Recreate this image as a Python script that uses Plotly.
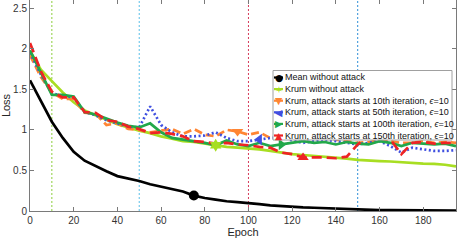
import plotly.graph_objects as go

# ---------------- data ----------------
epochs = list(range(0, 200, 5))

mean_no_attack = [1.61, 1.36, 1.10, 0.90, 0.73, 0.62, 0.55, 0.49, 0.43, 0.40,
                  0.37, 0.33, 0.30, 0.27, 0.24, 0.19, 0.16, 0.14, 0.12, 0.11,
                  0.10, 0.085, 0.07, 0.06, 0.05, 0.045, 0.04, 0.035, 0.03, 0.02,
                  0.015, 0.012, 0.01, 0.01, 0.009, 0.008, 0.007, 0.006, 0.005, 0.005]
krum_no_attack = [1.97, 1.74, 1.60, 1.46, 1.34, 1.24, 1.18, 1.12, 1.07, 1.03,
                  0.99, 0.96, 0.92, 0.89, 0.86, 0.85, 0.83, 0.81, 0.79, 0.78,
                  0.77, 0.76, 0.74, 0.72, 0.70, 0.69, 0.68, 0.67, 0.66, 0.645,
                  0.63, 0.62, 0.615, 0.61, 0.60, 0.595, 0.585, 0.58, 0.57, 0.55]
krum_attack_10 = [1.92, 1.65, 1.46, 1.38, 1.38, 1.21, 1.20, 1.06, 1.08, 1.01,
                  1.00, 0.97, 0.99, 1.01, 0.95, 1.01, 0.94, 0.92, 1.00, 0.98,
                  0.94, 0.97, 0.90, 0.95, 0.92, 0.95, 0.94, 0.92, 0.88, 0.86,
                  0.84, 0.85, 0.87, 0.86, 0.84, 0.84, 0.86, 0.84, 0.85, 0.84]
krum_attack_50 = [1.95, 1.68, 1.45, 1.42, 1.40, 1.22, 1.18, 1.12, 1.08, 1.04,
                  1.03, 1.29, 1.06, 0.97, 0.92, 0.92, 0.93, 0.97, 0.90, 0.86,
                  0.86, 0.88, 0.90, 0.91, 0.87, 0.84, 0.86, 0.88, 0.86, 0.84,
                  0.82, 0.84, 0.86, 0.80, 0.72, 0.78, 0.76, 0.74, 0.74, 0.75]
krum_attack_100 = [1.98, 1.70, 1.43, 1.43, 1.41, 1.22, 1.19, 1.14, 1.09, 1.05,
                   1.03, 1.08, 0.97, 0.90, 0.88, 0.86, 0.84, 0.81, 0.87, 0.82,
                   0.80, 0.84, 0.80, 0.82, 0.84, 0.86, 0.84, 0.85, 0.82, 0.85,
                   0.83, 0.82, 0.86, 0.84, 0.80, 0.84, 0.83, 0.82, 0.83, 0.80]
krum_attack_150 = [2.07, 1.72, 1.47, 1.40, 1.40, 1.22, 1.21, 1.12, 1.10, 1.04,
                   1.01, 0.96, 0.97, 0.95, 0.92, 0.86, 0.85, 0.83, 0.84, 0.82,
                   0.81, 0.79, 0.78, 0.72, 0.70, 0.66, 0.66, 0.66, 0.65, 0.67,
                   0.82, 0.92, 0.90, 0.88, 0.70, 0.84, 0.85, 0.83, 0.84, 0.84]

series_names = ["Mean without attack",
                "Krum without attack",
                "Krum, attack starts at 10th iteration, <i>ϵ</i>=10",
                "Krum, attack starts at 50th iteration, <i>ϵ</i>=10",
                "Krum, attack starts at 100th iteration, <i>ϵ</i>=10",
                "Krum, attack starts at 150th iteration, <i>ϵ</i>=10"]
series_values = [mean_no_attack, krum_no_attack, krum_attack_10,
                 krum_attack_50, krum_attack_100, krum_attack_150]
marker_epochs = [75, 85, 95, 105, 115, 125]
attack_starts = [10, 50, 100, 150]

x_ticks = [0, 20, 40, 60, 80, 100, 120, 140, 160, 180]
y_ticks = [0, 0.5, 1, 1.5, 2, 2.5]
y_tick_labels = ["0", "0.5", "1", "1.5", "2", "2.5"]

# ---------------- styles ----------------
colors = ["#000000", "#a8de22", "#ff8533", "#3f4fe0", "#22a84a", "#ee2424"]
dashes = ["solid", "solid", "8px,4px", "2px,2.5px", "solid", "10px,5px"]
symbols = ["circle", "hexagram", "triangle-down", "triangle-left",
           "triangle-right", "triangle-up"]
glyphs = ["●", "✶", "▼", "◀", "▶", "▲"]
vline_colors = ["#8ccf3c", "#5bbfe8", "#d63b5a", "#2f8fd8"]

W, H = 458, 240
ML, MR, MT, MB = 30, 2, 0, 29
PW, PH = W - ML - MR, H - MT - MB


def px(x):
    return (x - ML) / PW


def py(y):
    return (H - MB - y) / PH


FONT = "Liberation Sans, Arial, Helvetica, sans-serif"

fig = go.Figure()

for name, vals, col, dsh in zip(series_names, series_values, colors, dashes):
    fig.add_trace(go.Scatter(x=epochs, y=vals, mode="lines", name=name,
                             line=dict(color=col, width=2.7, dash=dsh),
                             showlegend=False, hoverinfo="skip"))
for name, vals, col, sym, me in zip(series_names, series_values, colors,
                                    symbols, marker_epochs):
    i = epochs.index(me)
    fig.add_trace(go.Scatter(x=[epochs[i]], y=[vals[i]], mode="markers",
                             name=name, showlegend=False,
                             marker=dict(symbol=sym, color=col, size=10,
                                         line=dict(width=0))))

shapes = []
for xs, c in zip(attack_starts, vline_colors):
    shapes.append(dict(type="line", xref="x", yref="paper", x0=xs, x1=xs,
                       y0=0, y1=1, layer="below",
                       line=dict(color=c, width=1, dash="2px,2px")))

# custom compact legend
shapes.append(dict(type="rect", xref="paper", yref="paper",
                   x0=px(273), x1=px(452), y0=py(140), y1=py(70.5),
                   fillcolor="white", line=dict(color="#a0a0a0", width=1),
                   layer="above"))
annotations = []
for k, (name, col, g) in enumerate(zip(series_names, colors, glyphs)):
    yy = 77.5 + 11.6 * k
    shapes.append(dict(type="line", xref="paper", yref="paper",
                       x0=px(274), x1=px(283), y0=py(yy), y1=py(yy),
                       layer="above", line=dict(color=col, width=2.2)))
    annotations.append(dict(xref="paper", yref="paper", x=px(278.5), y=py(yy),
                            text=g, showarrow=False, xanchor="center",
                            yanchor="middle", borderpad=0,
                            font=dict(size=9.5, color=col,
                                      family="DejaVu Sans")))
    annotations.append(dict(xref="paper", yref="paper", x=px(283.5), y=py(yy),
                            text=name, showarrow=False, xanchor="left",
                            yanchor="middle", borderpad=0,
                            font=dict(size=9, color="#111111", family=FONT)))

fig.update_layout(
    width=W, height=H,
    margin=dict(l=ML, r=MR, t=MT, b=MB, pad=0),
    paper_bgcolor="white", plot_bgcolor="white",
    font=dict(family=FONT, size=10, color="#262626"),
    shapes=shapes, annotations=annotations, showlegend=False,
    xaxis=dict(range=[0, 195], tickvals=x_ticks, ticks="inside", ticklen=4,
               tickcolor="#7a7a7a", showline=True, linecolor="#7a7a7a",
               linewidth=1, mirror="ticks", showgrid=False, zeroline=False,
               tickfont=dict(size=10, color="#333333"),
               title=dict(text="Epoch", font=dict(size=11, color="#262626"),
                          standoff=2),
               automargin=False),
    yaxis=dict(range=[0, 2.6], tickvals=y_ticks, ticktext=y_tick_labels,
               ticks="inside", ticklen=4, tickcolor="#7a7a7a", showline=True,
               linecolor="#7a7a7a", linewidth=1, mirror="ticks",
               showgrid=False, zeroline=False,
               tickfont=dict(size=10, color="#333333"),
               title=dict(text="Loss", font=dict(size=11, color="#262626"),
                          standoff=2),
               automargin=False),
)

fig.write_html("out.html",
               config={"displayModeBar": False, "staticPlot": True},
               post_script="document.body.style.margin='0px';"
                           "document.body.style.overflow='hidden';")
